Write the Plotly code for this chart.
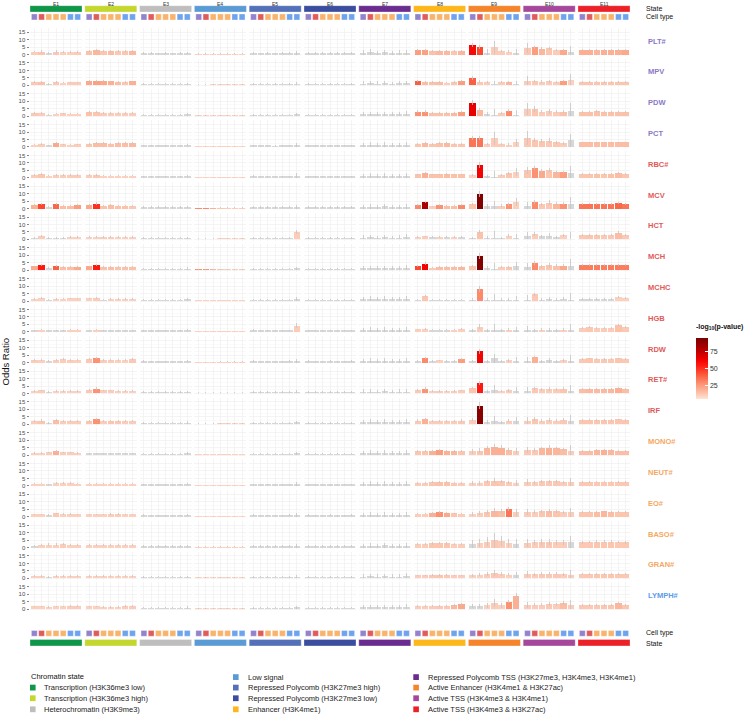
import plotly.graph_objects as go
from plotly.colors import sample_colorscale

W, H = 756, 716
FONT = "Liberation Sans, Arial, sans-serif"

STATES = ["E1", "E2", "E3", "E4", "E5", "E6", "E7", "E8", "E9", "E10", "E11"]
STATE_COLORS = ["#0F9648", "#C4D72E", "#BEBEBE", "#5B9BD5", "#5470B8", "#3A4D9E",
                "#6A2C8E", "#FDB71A", "#F5842B", "#A5479B", "#EC2027"]
STATE_NAMES = ["Transcription (H3K36me3 low)", "Transcription (H3K36me3 high)",
               "Heterochromatin (H3K9me3)", "Low signal",
               "Repressed Polycomb (H3K27me3 high)", "Repressed Polycomb (H3K27me3 low)",
               "Repressed Polycomb TSS (H3K27me3, H3K4me3, H3K4me1)", "Enhancer (H3K4me1)",
               "Active Enhancer (H3K4me1 & H3K27ac)", "Active TSS (H3K4me3 & H3K4me1)",
               "Active TSS (H3K4me3 & H3K27ac)"]
LEGEND_ORDER = [0, 1, 2, 3, 4, 5, 7, 6, 8, 9, 10]
CELL_COLORS = ["#9382CC", "#E05C5C", "#F8B36C", "#F8B36C", "#F8B36C", "#6EA3EE", "#6EA3EE"]

TRAITS = ["PLT#", "MPV", "PDW", "PCT", "RBC#", "MCV", "HCT", "MCH", "MCHC", "HGB",
          "RDW", "RET#", "IRF", "MONO#", "NEUT#", "EO#", "BASO#", "GRAN#", "LYMPH#"]
TRAIT_COLORS = ["#8A79C8"] * 4 + ["#E05A5A"] * 9 + ["#F4A862"] * 5 + ["#5B9BEA"]

G0 = [0, 0, 0, 0, 0, 0, 0]

# ---- odds ratios / -log10 p (0 = not significant) / CI half width, per trait: 11 states x 7 cell types
OR_PLT = [[2.0,2.0,1.0,2.0,1.8,1.8,1.9],[2.4,2.7,2.2,2.5,2.1,2.2,2.6],[1.0,1.0,0.9,1.0,0.9,1.0,1.1],[0.5,0.5,0.5,0.6,0.6,0.6,0.5],[1.0,0.9,1.0,0.9,1.0,1.0,1.1],[1.0,1.0,1.0,1.1,1.0,1.0,1.0],[1.2,1.4,1.2,1.5,1.2,1.3,1.2],[3.0,3.0,2.3,2.4,2.4,2.2,2.4],[6.4,5.3,1.0,4.7,2.2,2.0,1.0],[4.2,4.7,3.8,4.2,2.9,3.1,1.5],[3.0,3.0,2.9,3.0,3.0,3.0,3.2]]
P_PLT = [[12,14,0,13,11,11,12],[15,18,14,16,13,14,17],G0,[11,11,11,11,11,11,11],G0,G0,G0,[25,24,15,17,17,14,18],[60,45,0,12,12,11,0],[13,25,18,14,12,22,0],[20,20,18,20,20,20,22]]
ER_PLT = [[0.6,0.7,0.5,0.7,0.5,0.6,0.6],[0.6,0.7,0.6,0.7,0.6,0.6,0.7],[0.5,0.4,0.4,0.4,0.4,0.4,0.8],[0.2,0.2,0.2,0.2,0.2,0.2,0.2],[0.6,0.4,0.4,0.4,0.4,0.5,1.2],[0.5,0.4,0.4,0.6,0.4,0.4,0.5],[1.5,2.0,1.4,1.8,1.4,1.5,2.0],[0.8,0.8,0.6,0.6,0.6,0.6,0.6],[1.5,1.3,2.8,4.5,0.8,0.8,2.8],[3.5,1.2,1.0,1.0,0.8,0.8,4.0],[0.6,0.6,0.6,0.6,0.6,0.6,0.6]]

OR_MPV = [[2.2,2.4,1.0,2.2,1.8,2.0,2.0],[2.8,3.0,2.8,2.6,2.3,2.1,2.6],[1.0,1.0,1.0,1.0,1.0,1.0,1.1],[0.5,0.5,0.6,0.6,0.6,0.6,0.6],[1.0,1.0,1.0,0.9,1.0,1.0,1.2],[1.0,1.0,1.0,1.0,1.0,1.0,1.0],[1.2,1.3,1.2,1.4,1.2,1.3,1.3],[2.9,2.2,2.1,2.2,1.8,2.0,2.7],[5.1,2.5,2.3,1.0,2.2,2.5,1.0],[3.0,2.9,2.3,2.6,2.3,2.9,3.6],[2.2,2.2,2.4,2.3,2.3,2.2,2.3]]
P_MPV = [[13,15,0,13,11,12,12],[22,24,22,20,16,14,20],G0,[11,11,11,11,11,11,11],G0,G0,G0,[40,16,15,16,12,14,25],[40,13,12,0,12,18,0],[12,13,12,12,12,25,11],[14,14,14,14,14,14,14]]
ER_MPV = [[0.6,0.6,0.5,0.6,0.5,0.5,0.5],[0.7,0.7,0.6,0.6,0.6,0.6,0.6],[0.5,0.4,0.4,0.4,0.4,0.4,0.7],[0.2,0.2,0.2,0.2,0.2,0.2,0.2],[0.6,0.4,0.4,0.4,0.4,0.5,1.0],[0.5,0.4,0.4,0.5,0.4,0.4,0.5],[1.4,1.8,1.4,1.6,1.3,1.5,1.8],[0.8,0.6,0.6,0.6,0.5,0.6,0.7],[1.2,0.8,0.8,2.0,0.7,0.7,2.0],[3.0,1.0,1.0,1.0,0.8,0.8,4.0],[0.5,0.5,0.5,0.5,0.5,0.5,0.5]]

OR_PDW = [[2.3,2.0,1.0,1.6,1.8,1.6,1.6],[2.6,2.5,2.0,2.1,2.0,2.1,2.1],[1.0,1.0,1.0,1.0,1.0,1.0,1.1],[0.5,0.5,0.5,0.6,0.6,0.6,0.6],[1.0,0.9,1.0,1.0,1.0,1.0,1.2],[1.0,1.0,1.0,1.0,1.0,1.0,1.0],[1.2,1.3,1.2,1.4,1.2,1.2,1.3],[3.1,3.1,2.2,2.2,2.2,2.4,2.9],[9.1,4.2,1.5,1.0,2.0,3.6,1.0],[4.9,4.7,3.0,3.2,3.0,3.0,3.5],[3.0,3.0,3.3,3.0,3.0,3.0,3.0]]
P_PDW = [[13,12,0,11,12,11,11],[15,14,12,12,12,12,12],G0,[11,11,11,11,11,11,11],G0,G0,G0,[28,28,15,15,15,17,25],[65,18,0,0,12,30,0],[12,14,12,12,12,15,0],[15,15,15,15,15,15,15]]
ER_PDW = [[0.7,0.6,0.5,0.5,0.5,0.5,0.5],[0.7,0.7,0.6,0.6,0.6,0.6,0.6],[0.5,0.4,0.4,0.4,0.4,0.4,0.8],[0.2,0.2,0.2,0.2,0.2,0.2,0.2],[0.6,0.4,0.4,0.4,0.4,0.5,1.2],[0.5,0.4,0.4,0.5,0.4,0.4,0.5],[1.5,1.8,1.4,1.7,1.4,1.5,2.0],[0.8,0.8,0.6,0.6,0.6,0.6,0.7],[1.8,1.0,1.2,4.0,0.8,1.0,3.0],[4.0,2.0,1.2,1.5,1.0,1.0,5.5],[0.6,0.6,0.6,0.6,0.6,0.6,0.6]]

OR_PCT = [[1.5,1.8,1.0,2.6,1.8,1.5,1.8],[2.2,2.5,2.5,2.3,2.5,2.5,2.6],[1.0,1.0,1.0,1.0,1.0,1.0,1.1],[0.5,0.5,0.5,0.6,0.6,0.6,0.5],[1.0,1.0,1.0,0.9,1.0,1.0,1.2],[1.0,1.0,1.0,1.0,1.0,1.0,1.0],[1.2,1.3,1.2,1.4,1.2,1.2,1.3],[2.2,2.8,2.2,2.5,2.8,2.2,2.2],[6.0,6.0,1.8,5.8,2.0,1.6,3.0],[6.0,4.7,3.8,4.2,3.2,2.5,4.5],[3.0,3.0,3.0,3.0,3.0,3.0,3.0]]
P_PCT = [[11,12,0,22,12,11,12],[14,16,16,15,16,16,17],G0,[11,11,11,11,11,11,11],G0,G0,G0,[14,17,14,15,17,14,14],[35,35,12,12,12,11,11],[13,14,14,13,13,12,0],[16,16,16,16,16,16,16]]
ER_PCT = [[0.5,0.6,0.5,0.7,0.5,0.5,0.5],[0.6,0.7,0.7,0.6,0.7,0.7,0.7],[0.5,0.4,0.4,0.4,0.4,0.4,0.8],[0.2,0.2,0.2,0.2,0.2,0.2,0.2],[0.6,0.4,0.4,0.4,0.4,0.5,1.2],[0.5,0.4,0.4,0.5,0.4,0.4,0.5],[1.5,1.8,1.4,1.7,1.4,1.5,2.0],[0.6,0.7,0.6,0.6,0.7,0.6,0.6],[1.5,1.5,0.8,4.5,0.8,0.8,2.5],[4.5,1.5,1.2,1.5,1.0,1.0,4.5],[0.6,0.6,0.6,0.6,0.6,0.6,0.6]]

OR_RBC = [[1.8,2.3,1.5,2.0,1.8,1.8,2.0],[1.8,2.0,1.5,1.5,1.5,1.5,1.5],[1.0,1.0,1.0,1.0,1.0,1.0,1.2],[0.5,0.5,0.5,0.6,0.6,0.6,0.6],[1.0,1.0,1.0,1.0,1.0,1.0,1.5],[1.0,1.0,1.0,1.0,1.0,1.0,1.0],[1.2,1.3,1.2,1.4,1.2,1.2,1.3],[2.2,3.0,2.2,2.2,2.4,2.2,2.2],[2.0,8.7,1.0,0.5,2.0,3.0,4.0],[5.0,6.4,4.4,5.0,3.6,3.6,3.0],[2.6,2.6,2.8,2.7,2.8,3.0,2.6]]
P_RBC = [[12,14,11,12,12,12,12],[12,13,11,11,11,11,11],G0,[11,11,11,11,11,11,11],G0,G0,G0,[15,20,15,15,16,15,15],[11,62,0,0,12,14,11],[14,28,22,14,18,25,0],[14,14,15,14,15,16,14]]
ER_RBC = [[0.5,0.7,0.5,0.6,0.5,0.5,0.6],[0.5,0.6,0.5,0.5,0.5,0.5,0.5],[0.5,0.4,0.4,0.4,0.4,0.4,0.9],[0.2,0.2,0.2,0.2,0.2,0.2,0.2],[0.6,0.4,0.4,0.4,0.4,0.5,1.8],[0.5,0.4,0.4,0.5,0.4,0.4,0.5],[1.5,1.8,1.4,1.7,1.4,1.5,2.0],[0.6,0.8,0.6,0.6,0.6,0.6,0.6],[0.8,2.2,1.0,4.0,0.8,1.0,2.5],[2.5,1.5,1.2,1.5,1.0,1.0,5.0],[0.6,0.6,0.6,0.6,0.6,0.6,0.6]]

OR_MCV = [[2.4,3.0,1.3,2.8,2.0,2.0,2.4],[2.4,3.3,2.0,2.2,2.0,2.0,1.8],[1.0,1.0,1.0,1.0,1.0,1.0,1.1],[0.5,0.5,0.5,0.6,0.6,0.6,0.6],[1.0,1.0,1.0,1.0,1.0,1.0,1.2],[1.0,1.0,1.0,1.0,1.0,1.1,1.0],[1.2,1.3,1.2,1.4,1.2,1.2,1.3],[2.4,4.4,1.5,2.2,2.0,2.0,2.4],[3.0,9.6,1.5,1.5,2.0,3.0,4.5],[2.0,4.4,3.0,4.0,3.3,3.2,3.0],[3.3,3.4,3.3,3.3,3.3,3.6,3.3]]
P_MCV = [[20,45,0,38,16,16,25],[22,50,15,16,15,15,13],G0,[30,30,20,14,12,12,12],G0,G0,G0,[30,80,12,28,16,16,30],[14,92,0,0,12,28,11],[0,30,13,13,18,28,0],[35,35,35,35,35,38,35]]
ER_MCV = [[0.6,0.7,0.5,0.7,0.6,0.6,0.6],[0.6,0.8,0.6,0.6,0.6,0.6,0.5],[0.5,0.4,0.4,0.4,0.4,0.4,0.8],[0.2,0.2,0.2,0.2,0.2,0.2,0.2],[0.6,0.4,0.4,0.4,0.4,0.5,1.2],[0.5,0.4,0.4,0.5,0.4,0.6,0.5],[1.5,1.8,1.4,1.7,1.4,1.5,2.0],[0.6,0.9,0.5,0.6,0.6,0.6,0.6],[0.8,2.0,1.5,3.5,0.8,1.0,2.5],[2.5,1.2,1.0,1.5,1.0,1.0,4.5],[0.6,0.6,0.6,0.6,0.6,0.6,0.6]]

OR_HCT = [[1.0,2.2,1.0,1.0,1.0,1.8,1.6],[1.5,1.5,1.8,1.8,1.5,1.6,1.6],[1.0,1.0,1.0,1.0,1.0,1.0,1.1],[0.5,0.5,0.5,0.6,0.6,0.6,0.6],[1.0,1.0,1.0,1.0,1.0,1.0,5.0],[1.0,1.0,1.0,1.0,1.0,1.0,1.0],[1.2,1.3,1.2,1.4,1.2,1.2,1.3],[1.8,2.0,1.5,1.5,1.5,1.6,1.5],[1.0,4.9,1.0,1.0,1.0,2.5,1.0],[2.5,3.5,2.0,2.5,1.5,2.7,0.5],[2.8,3.2,3.2,2.7,3.0,4.5,3.0]]
P_HCT = [[0,12,0,0,0,11,11],[11,11,12,12,11,11,11],G0,[11,11,11,11,11,11,11],[0,0,0,0,0,0,12],G0,G0,[11,12,0,11,0,11,0],[0,15,0,0,0,11,0],[0,12,0,0,0,11,0],[13,14,14,13,13,16,13]]
ER_HCT = [[0.6,0.8,0.5,0.5,0.5,0.6,0.6],[0.6,0.6,0.6,0.6,0.6,0.6,0.6],[0.5,0.4,0.4,0.4,0.4,0.4,0.8],[0.2,0.2,0.2,0.2,0.2,0.2,0.2],[0.6,0.4,0.4,0.4,0.4,0.5,1.6],[0.5,0.4,0.4,0.5,0.4,0.4,0.5],[1.5,1.8,1.4,1.7,1.4,1.5,2.0],[0.6,0.6,0.5,0.5,0.5,0.5,0.5],[0.8,1.5,1.0,4.5,0.8,0.8,2.5],[2.5,1.2,1.0,1.5,1.0,1.0,4.5],[0.6,0.6,0.6,0.6,0.6,0.8,0.6]]

OR_MCH = [[2.5,3.2,1.5,2.8,2.2,2.2,2.4],[2.5,3.5,2.0,2.2,2.0,2.0,2.0],[1.0,1.0,1.0,1.0,1.0,1.0,1.1],[0.5,0.5,0.5,0.6,0.6,0.6,0.6],[1.0,1.0,1.0,1.0,1.0,1.0,1.2],[1.0,1.0,1.0,1.0,1.0,1.0,1.0],[1.2,1.3,1.2,1.4,1.2,1.2,1.3],[3.1,4.4,1.8,2.2,2.2,2.2,2.4],[3.0,9.8,1.5,1.0,2.0,2.2,2.7],[2.0,4.9,2.7,3.3,3.0,3.0,3.0],[3.3,3.4,3.3,3.3,3.3,3.4,3.3]]
P_MCH = [[22,55,0,40,16,16,22],[22,55,15,16,15,15,15],G0,[28,28,18,13,12,12,12],G0,G0,G0,[45,62,13,16,16,16,18],[14,92,0,0,12,14,0],[0,30,14,14,15,22,0],[33,33,33,33,33,33,33]]
ER_MCH = [[0.6,0.7,0.5,0.7,0.6,0.6,0.6],[0.6,0.8,0.6,0.6,0.6,0.6,0.6],[0.5,0.4,0.4,0.4,0.4,0.4,0.8],[0.2,0.2,0.2,0.2,0.2,0.2,0.2],[0.6,0.4,0.4,0.4,0.4,0.5,1.2],[0.5,0.4,0.4,0.5,0.4,0.4,0.5],[1.5,1.8,1.4,1.7,1.4,1.5,2.0],[0.7,0.9,0.5,0.6,0.6,0.6,0.6],[0.8,2.0,1.5,3.5,0.8,0.8,2.5],[2.5,1.2,1.0,1.5,1.0,1.0,4.5],[0.6,0.6,0.6,0.6,0.6,0.6,0.6]]

OR_MCHC = [[1.5,1.8,1.0,1.5,1.6,1.8,1.8],[1.8,2.2,1.0,1.5,1.5,1.5,1.5],[1.0,1.0,1.0,1.0,1.0,1.0,1.1],[0.6,0.6,0.6,0.6,0.6,0.6,0.6],[1.0,1.0,1.0,1.0,1.0,1.0,1.2],[1.0,1.0,1.0,1.0,1.0,1.0,1.0],[1.2,1.3,1.2,1.4,1.2,1.2,1.3],[1.0,3.5,1.0,1.0,1.0,1.0,1.0],[1.0,8.2,1.0,0.5,1.0,1.0,1.0],[1.0,4.5,1.0,1.5,1.0,1.5,1.0],[1.5,1.5,1.5,1.5,1.5,2.5,2.0]]
P_MCHC = [[11,11,0,11,11,11,11],[11,12,0,11,11,11,11],G0,[11,11,11,11,11,11,11],G0,G0,G0,[0,14,0,0,0,0,0],[0,30,0,0,0,0,0],[0,13,0,0,0,0,0],[0,0,0,0,0,11,11]]
ER_MCHC = [[0.5,0.6,0.5,0.5,0.5,0.5,0.5],[0.5,0.6,0.5,0.5,0.5,0.5,0.5],[0.5,0.4,0.4,0.4,0.4,0.4,0.8],[0.2,0.2,0.2,0.2,0.2,0.2,0.2],[0.6,0.4,0.4,0.4,0.4,0.5,1.2],[0.5,0.4,0.4,0.5,0.4,0.4,0.5],[1.5,1.8,1.4,1.7,1.4,1.5,2.0],[0.5,0.8,0.5,0.5,0.5,0.5,0.5],[0.8,2.0,1.0,4.0,0.8,0.8,2.5],[3.0,1.2,1.0,1.5,1.0,1.0,4.5],[0.5,0.5,0.5,0.5,0.5,0.6,0.6]]

OR_HGB = [[1.0,1.5,1.0,1.0,1.0,1.5,1.5],[1.0,1.5,1.0,1.0,1.0,1.0,1.0],[1.0,1.0,1.0,1.0,1.0,1.0,1.1],[0.6,0.6,0.6,0.6,0.6,0.6,0.6],[1.0,1.0,1.0,1.0,1.0,1.0,4.0],[1.0,1.0,1.0,1.0,1.0,1.0,1.0],[1.2,1.3,1.2,1.4,1.2,1.2,1.3],[1.6,2.0,1.5,1.5,1.5,1.5,1.8],[1.0,3.5,1.0,1.0,1.0,1.5,1.0],[1.0,1.0,1.5,1.0,1.0,1.5,1.0],[2.5,3.5,2.5,2.5,2.5,4.5,3.0]]
P_HGB = [[0,11,0,0,0,11,11],[0,11,0,0,0,0,0],G0,[11,11,11,11,11,11,11],[0,0,0,0,0,0,12],G0,G0,[11,11,0,0,0,11,11],[0,12,0,0,0,11,0],[0,0,11,0,0,11,0],[12,13,12,12,12,15,13]]
ER_HGB = [[0.5,0.5,0.5,0.5,0.5,0.5,0.5],[0.5,0.5,0.5,0.5,0.5,0.5,0.5],[0.5,0.4,0.4,0.4,0.4,0.4,0.8],[0.2,0.2,0.2,0.2,0.2,0.2,0.2],[0.6,0.4,0.4,0.4,0.4,0.5,1.6],[0.5,0.4,0.4,0.5,0.4,0.4,0.5],[1.5,1.8,1.4,1.7,1.4,1.5,2.0],[0.5,0.6,0.5,0.5,0.5,0.5,0.5],[0.8,1.5,1.0,4.0,0.8,0.8,2.5],[3.0,1.0,1.0,1.5,1.0,1.0,4.5],[0.6,0.6,0.6,0.6,0.6,0.8,0.6]]

OR_RDW = [[2.0,1.8,1.0,2.0,2.2,2.0,1.8],[2.2,3.2,2.0,2.0,1.8,1.8,2.2],[1.0,1.0,1.0,1.0,1.0,1.0,1.1],[0.5,0.5,0.5,0.6,0.6,0.6,0.6],[1.0,1.0,1.0,1.0,1.0,1.0,1.2],[1.0,1.0,1.0,1.0,1.0,1.0,1.0],[1.2,1.3,1.2,1.4,1.2,1.2,1.3],[1.0,3.3,1.0,1.5,1.0,1.0,2.5],[1.0,7.5,1.0,3.0,1.0,1.5,1.0],[1.0,3.5,1.0,1.5,1.0,1.5,1.0],[2.5,2.8,2.5,2.5,2.5,2.8,2.5]]
P_RDW = [[12,11,0,12,12,12,11],[13,28,12,12,11,11,13],G0,[11,11,11,11,11,11,11],G0,G0,G0,[0,30,0,11,0,0,25],[0,62,0,0,0,11,0],[0,20,0,0,0,11,0],[13,14,13,13,13,14,13]]
ER_RDW = [[0.6,0.6,0.5,0.6,0.6,0.6,0.6],[0.6,0.8,0.6,0.6,0.6,0.6,0.6],[0.5,0.4,0.4,0.4,0.4,0.4,0.8],[0.2,0.2,0.2,0.2,0.2,0.2,0.2],[0.6,0.4,0.4,0.4,0.4,0.5,1.2],[0.5,0.4,0.4,0.5,0.4,0.4,0.5],[1.5,1.8,1.4,1.7,1.4,1.5,2.0],[0.5,0.8,0.5,0.5,0.5,0.5,0.6],[0.8,1.5,1.0,3.0,0.8,0.8,2.5],[2.5,1.0,1.0,1.5,1.0,1.0,4.0],[0.6,0.6,0.6,0.6,0.6,0.6,0.6]]

OR_RET = [[1.8,2.0,1.0,1.5,1.5,1.8,1.5],[2.3,3.3,2.0,2.0,1.8,1.8,1.8],[1.0,1.0,1.0,1.0,1.0,1.0,1.1],[0.5,0.5,0.5,0.6,0.6,0.6,0.6],[1.0,1.0,1.0,1.0,1.0,1.0,1.2],[1.0,1.0,1.0,1.0,1.0,1.0,1.0],[1.2,1.3,1.2,1.4,1.2,1.2,1.3],[2.2,3.3,1.5,1.8,1.6,1.8,2.0],[3.5,7.0,1.5,2.0,1.5,2.0,1.5],[1.5,3.5,2.8,3.0,2.8,3.2,1.5],[2.8,3.0,3.0,3.0,3.2,3.5,2.8]]
P_RET = [[11,12,0,11,11,11,11],[13,28,12,12,11,11,11],G0,[11,11,11,11,11,11,11],G0,G0,G0,[13,28,11,12,11,12,12],[14,55,0,0,11,12,0],[0,13,12,12,12,14,0],[16,17,17,17,18,20,16]]
ER_RET = [[0.5,0.6,0.5,0.5,0.5,0.5,0.5],[0.6,0.8,0.6,0.6,0.6,0.6,0.6],[0.5,0.4,0.4,0.4,0.4,0.4,0.8],[0.2,0.2,0.2,0.2,0.2,0.2,0.2],[0.6,0.4,0.4,0.4,0.4,0.5,1.2],[0.5,0.4,0.4,0.5,0.4,0.4,0.5],[1.5,1.8,1.4,1.7,1.4,1.5,2.0],[0.6,0.8,0.5,0.5,0.5,0.5,0.6],[0.8,1.5,1.0,3.5,0.8,0.8,2.5],[2.5,1.0,1.0,1.5,1.0,1.0,4.0],[0.6,0.6,0.6,0.6,0.6,0.6,0.6]]

OR_IRF = [[2.2,2.5,1.0,2.6,2.0,2.0,2.0],[2.4,3.6,2.0,2.5,2.2,2.0,2.0],[1.0,1.0,1.0,1.0,1.0,1.0,1.1],[0.5,0.5,0.5,0.6,0.6,0.6,0.6],[1.0,1.0,1.0,1.0,1.0,1.0,1.2],[1.0,1.0,1.0,1.0,1.0,1.0,1.0],[1.2,1.3,1.2,1.4,1.2,1.2,1.3],[2.5,3.5,2.0,2.0,2.0,2.0,2.5],[3.0,12.5,1.5,2.0,1.5,2.5,2.0],[2.5,3.5,2.5,3.0,2.5,3.0,2.0],[3.0,3.0,3.0,3.0,3.0,3.2,3.0]]
P_IRF = [[12,14,0,16,12,12,12],[14,28,12,14,13,12,12],G0,[11,11,11,11,11,11,11],G0,G0,G0,[13,20,12,12,12,12,13],[12,90,0,0,0,12,0],[12,14,12,12,12,13,0],[14,14,14,14,14,14,14]]
ER_IRF = [[0.6,0.7,0.5,0.7,0.6,0.6,0.6],[0.6,0.9,0.6,0.6,0.6,0.6,0.6],[0.5,0.4,0.4,0.4,0.4,0.4,0.8],[0.2,0.2,0.2,0.2,0.2,0.2,0.2],[0.6,0.4,0.4,0.4,0.4,0.5,1.2],[0.5,0.4,0.4,0.5,0.4,0.4,0.5],[1.8,2.5,1.8,2.2,1.8,1.8,2.5],[0.7,0.9,0.6,0.6,0.6,0.6,0.7],[1.0,2.5,1.5,3.5,1.0,1.0,3.0],[2.5,1.2,1.0,1.5,1.0,1.0,4.0],[0.6,0.6,0.6,0.6,0.6,0.6,0.6]]

OR_MONO = [[1.5,1.5,1.8,2.6,1.8,1.8,1.5],[1.2,1.2,1.2,1.2,1.2,1.2,1.2],[1.0,1.0,1.0,1.0,1.0,1.0,1.1],[0.6,0.6,0.6,0.6,0.6,0.6,0.6],[1.0,1.0,1.0,1.0,1.0,1.0,1.2],[1.0,1.0,1.0,1.0,1.0,1.0,1.0],[1.2,1.3,1.2,1.4,1.2,1.2,1.3],[2.5,2.5,3.0,3.2,3.0,2.8,2.5],[2.5,3.0,4.5,5.5,5.0,3.5,2.5],[3.5,3.5,4.5,5.0,4.5,4.0,3.0],[3.0,3.0,3.2,3.4,3.2,3.0,3.0]]
P_MONO = [[11,11,12,20,12,12,11],G0,G0,[11,11,11,11,11,11,11],G0,G0,G0,[14,14,20,25,20,18,14],[12,14,18,20,20,16,12],[13,13,18,20,18,16,12],[16,16,18,20,18,16,16]]
ER_MONO = [[0.5,0.5,0.6,0.7,0.6,0.6,0.5],[0.5,0.5,0.5,0.5,0.5,0.5,0.5],[0.5,0.4,0.4,0.4,0.4,0.4,0.8],[0.2,0.2,0.2,0.2,0.2,0.2,0.2],[0.6,0.4,0.4,0.4,0.4,0.5,1.2],[0.5,0.4,0.4,0.5,0.4,0.4,0.5],[1.5,1.8,1.4,1.7,1.4,1.5,2.0],[0.6,0.6,0.7,0.7,0.7,0.6,0.6],[1.5,1.5,1.5,2.0,1.5,1.2,2.0],[2.0,1.2,1.2,1.5,1.2,1.0,3.5],[0.6,0.6,0.6,0.6,0.6,0.6,0.6]]

OR_NEUT = [[1.5,1.5,1.0,1.8,1.8,1.8,1.5],[1.5,1.5,1.5,1.6,1.5,1.5,1.5],[1.0,1.0,1.0,1.0,1.0,1.0,1.1],[0.6,0.6,0.6,0.6,0.6,0.6,0.6],[1.0,1.0,1.0,1.0,1.0,1.0,1.2],[1.0,1.0,1.0,1.0,1.0,1.0,1.0],[1.2,1.3,1.2,1.4,1.2,1.2,1.3],[2.0,2.0,2.4,2.5,2.5,2.2,2.0],[2.0,2.0,3.0,3.5,3.0,2.5,2.0],[2.5,2.5,3.0,3.0,3.0,2.5,2.5],[2.5,2.5,2.8,2.8,2.8,2.5,2.5]]
P_NEUT = [[11,11,0,11,11,11,11],[11,11,11,11,11,11,11],G0,[11,11,11,11,11,11,11],G0,G0,G0,[12,12,14,15,15,13,12],[11,11,13,14,13,12,11],[12,12,13,13,13,12,12],[13,13,13,13,13,13,13]]
ER_NEUT = [[0.5,0.5,0.5,0.6,0.6,0.6,0.5],[0.5,0.5,0.5,0.5,0.5,0.5,0.5],[0.5,0.4,0.4,0.4,0.4,0.4,0.8],[0.2,0.2,0.2,0.2,0.2,0.2,0.2],[0.6,0.4,0.4,0.4,0.4,0.5,1.2],[0.5,0.4,0.4,0.5,0.4,0.4,0.5],[1.5,1.8,1.4,1.7,1.4,1.5,2.0],[0.5,0.5,0.6,0.6,0.6,0.5,0.5],[1.2,1.2,1.2,1.5,1.2,1.0,2.0],[2.0,1.0,1.0,1.2,1.0,1.0,3.0],[0.5,0.5,0.5,0.5,0.5,0.5,0.5]]

OR_EO = [[1.5,1.5,1.0,2.2,1.8,1.8,1.5],[1.5,1.5,1.5,1.8,1.8,1.5,1.5],[1.0,1.0,1.0,1.0,1.0,1.0,1.1],[0.6,0.6,0.6,0.6,0.6,0.6,0.6],[1.0,1.0,1.0,1.0,1.0,1.0,1.2],[1.0,1.0,1.0,1.0,1.0,1.0,1.0],[1.2,1.3,1.2,1.4,1.2,1.2,1.3],[2.0,2.0,2.5,3.0,2.8,2.2,2.0],[2.0,2.5,3.0,4.0,3.5,5.0,3.0],[3.0,3.0,3.5,4.0,3.5,3.0,3.0],[3.0,3.0,3.2,3.5,3.2,3.0,3.0]]
P_EO = [[11,11,0,13,11,11,11],[11,11,11,12,12,11,11],G0,[11,11,11,11,11,11,11],G0,G0,G0,[12,12,20,28,22,14,12],[11,12,14,18,16,35,12],[12,12,14,16,14,12,12],[14,14,16,18,16,14,14]]
ER_EO = [[0.5,0.5,0.5,0.6,0.6,0.6,0.5],[0.5,0.5,0.5,0.6,0.6,0.5,0.5],[0.5,0.4,0.4,0.4,0.4,0.4,0.8],[0.2,0.2,0.2,0.2,0.2,0.2,0.2],[0.6,0.4,0.4,0.4,0.4,0.5,1.2],[0.5,0.4,0.4,0.5,0.4,0.4,0.5],[1.5,1.8,1.4,1.7,1.4,1.5,2.0],[0.5,0.5,0.6,0.7,0.6,0.5,0.5],[1.2,1.2,1.5,2.0,1.5,1.5,2.5],[2.0,1.2,1.2,1.5,1.2,1.0,3.0],[0.6,0.6,0.6,0.6,0.6,0.6,0.6]]

OR_BASO = [[1.0,1.5,2.0,2.0,2.5,1.5,1.5],[1.5,1.5,1.8,1.8,1.8,1.5,1.5],[1.0,1.0,1.0,1.0,1.0,1.0,1.1],[0.6,0.6,0.6,0.6,0.6,0.6,0.6],[1.0,1.0,1.0,1.0,1.0,1.0,1.2],[1.0,1.0,1.0,1.0,1.0,1.0,1.0],[1.2,1.3,1.2,1.4,1.2,1.2,1.3],[2.5,2.5,2.8,3.0,2.8,2.5,2.5],[2.5,3.0,4.0,5.0,4.5,3.0,2.5],[3.0,3.5,4.0,4.0,3.5,3.5,3.5],[3.5,3.8,4.0,4.0,4.0,3.8,3.5]]
P_BASO = [[0,11,11,11,12,11,11],[11,11,11,11,11,11,11],G0,[11,11,11,11,11,11,11],G0,G0,G0,[12,12,14,14,14,12,12],[0,11,12,13,12,11,0],[12,12,13,13,12,12,0],[13,13,14,14,14,13,13]]
ER_BASO = [[0.6,0.6,0.8,0.8,0.8,0.6,0.6],[0.6,0.6,0.6,0.6,0.6,0.6,0.6],[0.5,0.4,0.4,0.4,0.4,0.4,0.8],[0.2,0.2,0.2,0.2,0.2,0.2,0.2],[0.6,0.4,0.4,0.4,0.4,0.5,1.2],[0.5,0.4,0.4,0.5,0.4,0.4,0.5],[1.5,1.8,1.4,1.7,1.4,1.5,2.0],[0.7,0.7,0.8,0.8,0.8,0.7,0.7],[2.5,2.5,3.0,5.0,3.5,2.5,3.5],[2.5,1.5,2.0,2.0,1.5,1.5,4.0],[0.8,0.8,0.8,0.8,0.8,0.8,0.8]]

OR_GRAN = [[1.5,1.5,1.0,1.8,1.6,1.6,1.5],[1.5,1.5,1.5,1.6,1.5,1.5,1.5],[1.0,1.0,1.0,1.0,1.0,1.0,1.1],[0.6,0.6,0.6,0.6,0.6,0.6,0.6],[1.0,1.0,1.0,1.0,1.0,1.0,1.2],[1.0,1.0,1.0,1.0,1.0,1.0,1.0],[1.2,1.3,1.2,1.4,1.2,1.2,1.3],[2.0,2.0,2.2,2.4,2.2,2.0,2.0],[2.0,2.5,3.0,3.5,3.0,2.5,2.0],[2.8,2.8,3.0,3.2,3.0,2.8,2.5],[2.8,2.8,3.0,3.0,3.0,2.8,2.8]]
P_GRAN = [[11,11,0,11,11,11,11],[11,11,11,11,11,11,11],G0,[11,11,11,11,11,11,11],G0,G0,G0,[12,12,13,14,13,12,12],[11,11,12,13,12,11,0],[12,12,13,13,13,12,12],[13,13,14,14,14,13,13]]
ER_GRAN = [[0.5,0.5,0.5,0.6,0.5,0.5,0.5],[0.5,0.5,0.5,0.5,0.5,0.5,0.5],[0.5,0.4,0.4,0.4,0.4,0.4,0.8],[0.2,0.2,0.2,0.2,0.2,0.2,0.2],[0.6,0.4,0.4,0.4,0.4,0.5,1.2],[0.5,0.4,0.4,0.5,0.4,0.4,0.5],[1.5,1.8,1.4,1.7,1.4,1.5,2.0],[0.5,0.5,0.6,0.6,0.6,0.5,0.5],[1.2,1.2,1.5,2.0,1.5,1.2,2.5],[2.0,1.0,1.0,1.2,1.0,1.0,3.0],[0.5,0.5,0.5,0.5,0.5,0.5,0.5]]

OR_LYMPH = [[1.8,1.8,1.5,1.8,1.8,2.0,2.0],[1.8,1.8,1.6,1.6,1.6,2.0,2.0],[1.0,1.0,1.0,1.0,1.0,1.0,1.1],[0.6,0.6,0.6,0.6,0.6,0.6,0.6],[1.0,1.0,1.0,1.0,1.0,1.0,1.2],[1.0,1.0,1.0,1.0,1.0,1.0,1.0],[1.2,1.3,1.2,1.4,1.2,1.2,1.3],[2.0,2.0,2.0,2.2,2.2,2.8,3.2],[2.0,2.0,2.5,4.0,2.5,5.0,8.5],[3.0,3.0,3.0,3.5,3.2,4.0,3.0],[2.8,2.8,2.8,3.0,3.0,4.0,3.0]]
P_LYMPH = [[11,11,11,11,11,12,12],[11,11,11,11,11,12,12],G0,[11,11,11,11,11,11,11],G0,G0,G0,[12,12,12,13,13,18,22],[0,0,11,12,11,28,20],[12,12,12,13,12,16,12],[13,13,13,14,14,18,14]]
ER_LYMPH = [[0.5,0.5,0.5,0.5,0.5,0.6,0.6],[0.5,0.5,0.5,0.5,0.5,0.6,0.6],[0.5,0.4,0.4,0.4,0.4,0.4,0.8],[0.2,0.2,0.2,0.2,0.2,0.2,0.2],[0.6,0.4,0.4,0.4,0.4,0.5,1.2],[0.5,0.4,0.4,0.5,0.4,0.4,0.5],[1.5,1.8,1.4,1.7,1.4,1.5,2.0],[0.5,0.5,0.5,0.6,0.6,0.7,0.8],[1.5,1.5,1.5,2.5,1.5,1.2,2.0],[2.0,1.2,1.2,1.5,1.2,1.2,3.0],[0.6,0.6,0.6,0.6,0.6,0.8,0.6]]

OR_ALL = [OR_PLT, OR_MPV, OR_PDW, OR_PCT, OR_RBC, OR_MCV, OR_HCT, OR_MCH, OR_MCHC, OR_HGB,
          OR_RDW, OR_RET, OR_IRF, OR_MONO, OR_NEUT, OR_EO, OR_BASO, OR_GRAN, OR_LYMPH]
P_ALL = [P_PLT, P_MPV, P_PDW, P_PCT, P_RBC, P_MCV, P_HCT, P_MCH, P_MCHC, P_HGB,
         P_RDW, P_RET, P_IRF, P_MONO, P_NEUT, P_EO, P_BASO, P_GRAN, P_LYMPH]
ER_ALL = [ER_PLT, ER_MPV, ER_PDW, ER_PCT, ER_RBC, ER_MCV, ER_HCT, ER_MCH, ER_MCHC, ER_HGB,
          ER_RDW, ER_RET, ER_IRF, ER_MONO, ER_NEUT, ER_EO, ER_BASO, ER_GRAN, ER_LYMPH]

CELL_POS = [1, 2, 3, 4, 5, 6, 7]
PMIN, PMAX = 6, 94
SCALE = [[0.0, "#FEE3D6"], [0.12, "#FCBBA1"], [0.25, "#FC9272"], [0.40, "#FB5A3C"],
         [0.55, "#FF1A10"], [0.65, "#F00000"], [0.80, "#B80000"], [1.0, "#7A0000"]]
GREY = "#D7D7D7"

# ---------- layout geometry (pixels) ----------
COL_X0, COL_PITCH, COL_W = 30.0, 54.8, 52.0
ROW_B0, ROW_PITCH, ROW_H = 56.0, 30.9, 28.1
YR = [-0.9, 17.9]
XR = [0.4, 7.6]


def px(x):
    return x / W


def py(y):
    return 1 - y / H


def pcolor(v):
    if v <= 0:
        return GREY
    t = min(max((v - PMIN) / (PMAX - PMIN), 0), 1)
    return sample_colorscale(SCALE, [t])[0]


fig = go.Figure()
layout = {}
for r in range(len(TRAITS)):
    bottom = ROW_B0 + ROW_PITCH * r
    top = bottom - ROW_H
    for c in range(len(STATES)):
        idx = r * len(STATES) + c + 1
        sfx = "" if idx == 1 else str(idx)
        x0 = COL_X0 + COL_PITCH * c
        layout["xaxis" + sfx] = dict(
            domain=[px(x0), px(x0 + COL_W)], range=XR, anchor="y" + sfx,
            tickvals=CELL_POS, showticklabels=False, ticks="", showgrid=True,
            gridcolor="#EDEDED", gridwidth=0.6, zeroline=False, showline=False, fixedrange=True)
        layout["yaxis" + sfx] = dict(
            domain=[py(bottom), py(top)], range=YR, anchor="x" + sfx,
            tickvals=[0, 5, 10, 15], showticklabels=(c == 0),
            ticks="outside" if c == 0 else "", ticklen=2.5, tickwidth=0.6, tickcolor="#333333",
            tickfont=dict(size=6, color="#4D4D4D", family=FONT),
            showgrid=True, gridcolor="#EDEDED", gridwidth=0.6,
            minor=dict(tickvals=[2.5, 7.5, 12.5, 17.5], showgrid=True, gridcolor="#F6F6F6", gridwidth=0.5),
            zeroline=False, showline=False, fixedrange=True)
        ors = OR_ALL[r][c]
        ers = ER_ALL[r][c]
        fig.add_trace(go.Bar(
            x=CELL_POS, y=ors, width=0.9,
            marker=dict(color=[pcolor(v) for v in P_ALL[r][c]], line=dict(width=0)),
            error_y=dict(type="data", symmetric=False, array=ers,
                         arrayminus=[min(e, o) for e, o in zip(ers, ors)],
                         color="#C4C4C4", thickness=0.8, width=0),
            xaxis="x" + sfx, yaxis="y" + sfx, showlegend=False, hoverinfo="skip"))

# colour bar (dummy trace)
fig.add_trace(go.Scatter(
    x=[1], y=[-50], mode="markers", xaxis="x", yaxis="y", showlegend=False, hoverinfo="skip",
    marker=dict(size=1, color=[50], colorscale=SCALE, cmin=PMIN, cmax=PMAX, showscale=True,
                colorbar=dict(x=px(696), xanchor="left", y=py(369.5), yanchor="middle",
                              len=61, lenmode="pixels", thickness=12, thicknessmode="pixels",
                              tickvals=[25, 50, 75], ticks="inside", ticklen=3, tickcolor="white",
                              tickfont=dict(size=7, color="#333333", family=FONT),
                              outlinewidth=0, xpad=0, ypad=0))))

shapes = []
annotations = []

# state bars and cell-type squares (top and bottom)
for c in range(len(STATES)):
    xa = "x" if c == 0 else "x" + str(c + 1)
    xb = "x" + str((len(TRAITS) - 1) * len(STATES) + c + 1)
    for xref, (sb0, sb1), (sq0, sq1) in [(xa, (5.7, 12.0), (14.0, 20.0)),
                                          (xb, (641.3, 647.7), (632.3, 638.0))]:
        shapes.append(dict(type="rect", xref=xref + " domain", yref="paper", x0=0, x1=1,
                           y0=py(sb1), y1=py(sb0), fillcolor=STATE_COLORS[c],
                           line=dict(width=0.5, color="rgba(255,255,255,0.6)"), layer="above"))
        for j, cc in zip(CELL_POS, CELL_COLORS):
            shapes.append(dict(type="rect", xref=xref, yref="paper", x0=j - 0.4, x1=j + 0.4,
                               y0=py(sq1), y1=py(sq0), fillcolor=cc,
                               line=dict(width=0.5, color="rgba(255,255,255,0.6)"), layer="above"))
    annotations.append(dict(text=STATES[c], xref=xa + " domain", yref="paper", x=0.5, y=1.0,
                            xanchor="center", yanchor="top", showarrow=False, borderpad=0,
                            font=dict(size=5, color="#333333", family=FONT)))

# trait labels
for r, (t, tc) in enumerate(zip(TRAITS, TRAIT_COLORS)):
    yc = ROW_B0 + ROW_PITCH * r - ROW_H / 2 - 0.8
    annotations.append(dict(text="<b>%s</b>" % t, xref="paper", yref="paper", x=px(646),
                            y=py(yc), xanchor="left", yanchor="middle", showarrow=False,
                            font=dict(size=7.5, color=tc, family=FONT)))

for txt, yy in [("State", 8.5), ("Cell type", 16.8), ("Cell type", 634.5), ("State", 645.0)]:
    annotations.append(dict(text=txt, xref="paper", yref="paper", x=px(644), y=py(yy),
                            xanchor="left", yanchor="middle", showarrow=False,
                            font=dict(size=7, color="#111111", family=FONT)))

annotations.append(dict(text="Odds Ratio", xref="paper", yref="paper", x=px(5.5), y=py(363),
                        textangle=-90, xanchor="center", yanchor="middle", showarrow=False,
                        font=dict(size=9.5, color="#111111", family=FONT)))

annotations.append(dict(text="<b>-log<sub>10</sub>(p-value)</b>", xref="paper", yref="paper",
                        x=px(694), y=py(327.5), xanchor="left", yanchor="middle", showarrow=False,
                        font=dict(size=7, color="#111111", family=FONT)))

# chromatin state legend
annotations.append(dict(text="Chromatin state", xref="paper", yref="paper", x=px(29), y=py(678.3),
                        xanchor="left", yanchor="middle", showarrow=False,
                        font=dict(size=7.5, color="#111111", family=FONT)))
LEG_COLS = [(30.0, 42.0, [689.5, 700.2, 711.3]),
            (233.0, 245.7, [679.0, 689.5, 700.2, 711.3]),
            (413.3, 426.0, [679.0, 689.5, 700.2, 711.3])]
k = 0
for sx, tx, ys in LEG_COLS:
    for yy in ys:
        s = LEGEND_ORDER[k]
        k += 1
        shapes.append(dict(type="rect", xref="paper", yref="paper", x0=px(sx), x1=px(sx + 5.6),
                           y0=py(yy + 2.9), y1=py(yy - 2.9), fillcolor=STATE_COLORS[s],
                           line=dict(width=0)))
        annotations.append(dict(text=STATE_NAMES[s], xref="paper", yref="paper", x=px(tx), y=py(yy),
                                xanchor="left", yanchor="middle", showarrow=False,
                                font=dict(size=7.5, color="#222222", family=FONT)))

layout.update(dict(width=W, height=H, margin=dict(l=0, r=0, t=0, b=0),
                   paper_bgcolor="white", plot_bgcolor="white", bargap=0,
                   shapes=shapes, annotations=annotations, showlegend=False,
                   font=dict(family=FONT)))
fig.update_layout(**layout)
fig.write_html("out.html", config={"displayModeBar": False, "staticPlot": True},
               post_script="document.body.style.margin='0';document.body.style.padding='0';"
                           "document.body.style.overflow='hidden';")
